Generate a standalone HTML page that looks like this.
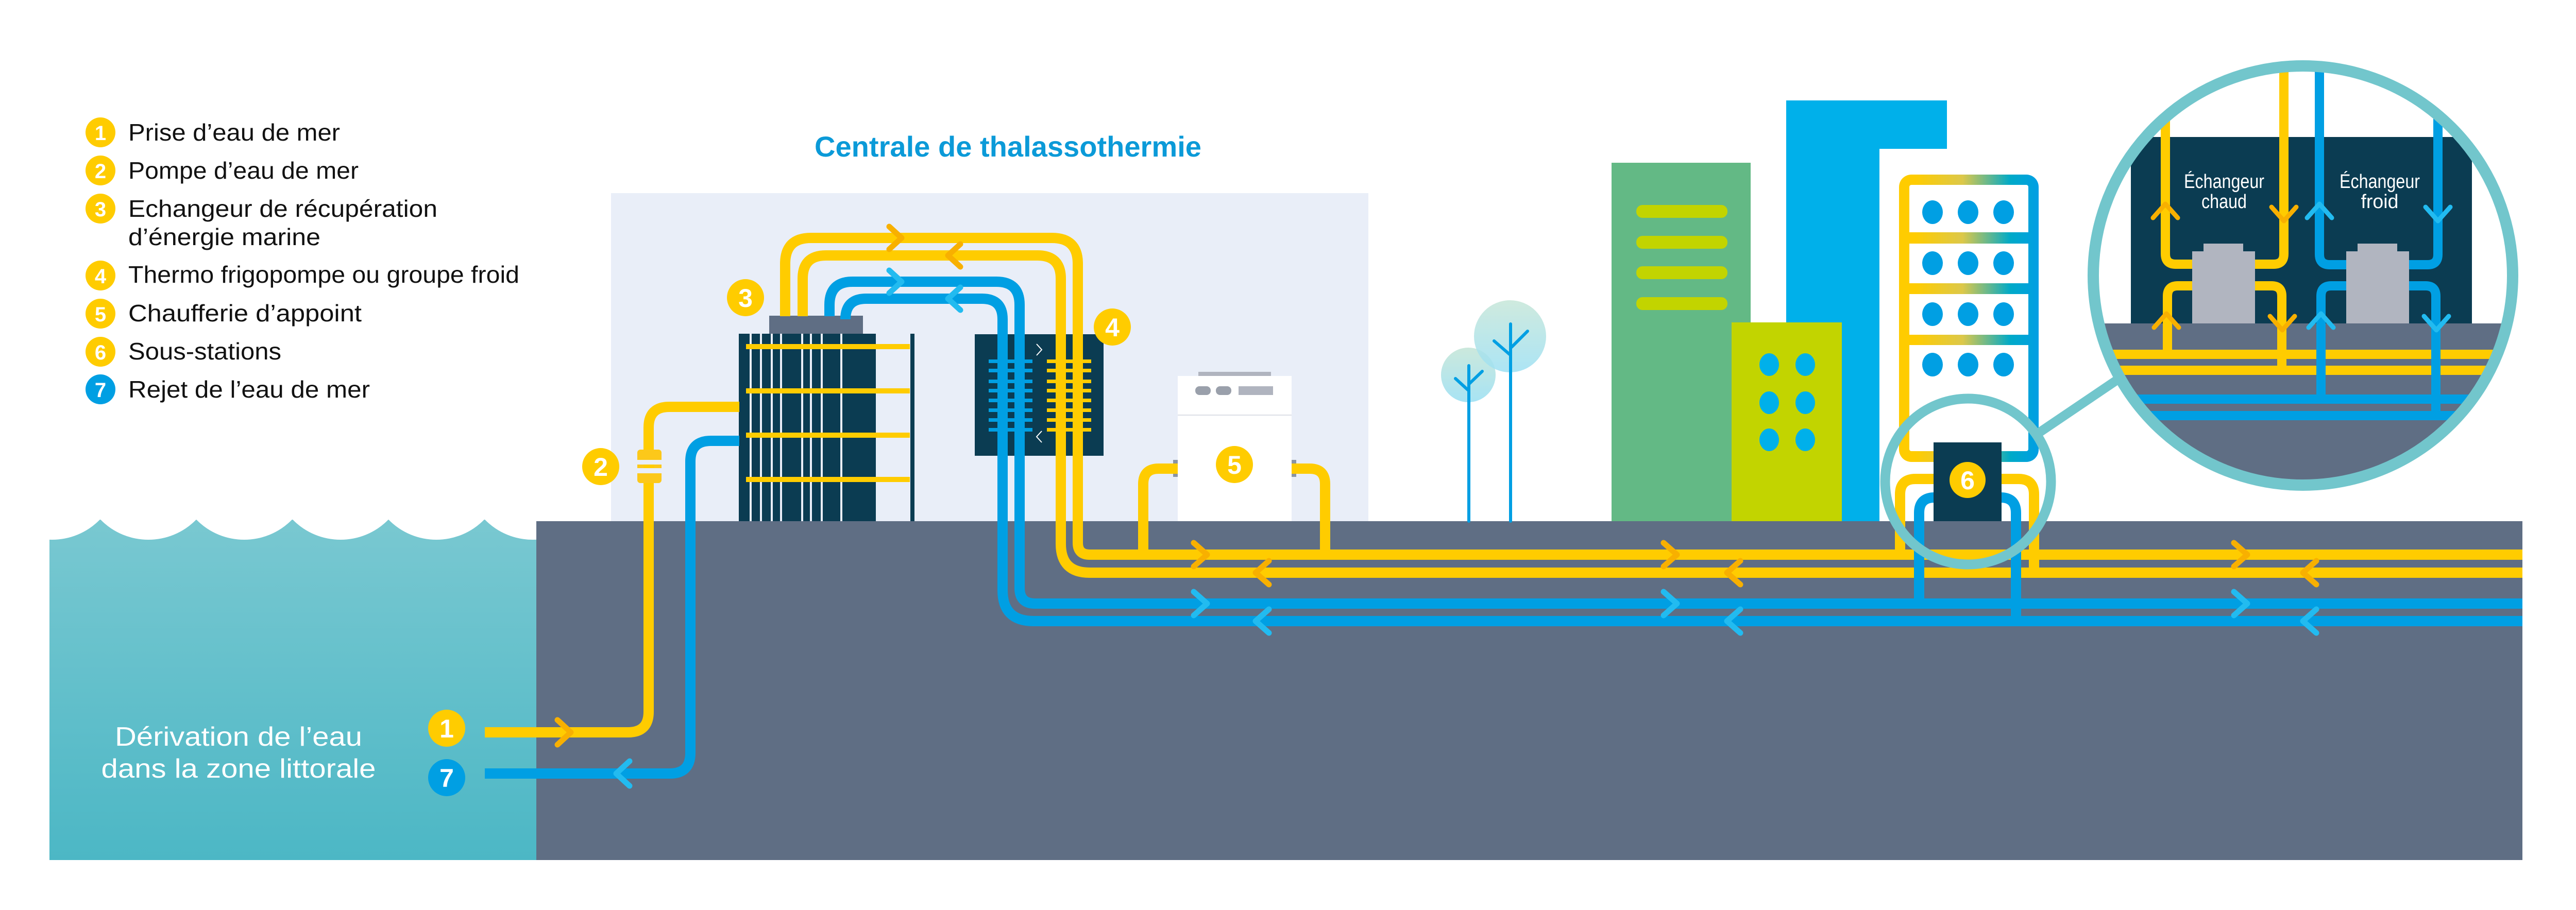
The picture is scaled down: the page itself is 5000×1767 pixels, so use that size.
<!DOCTYPE html>
<html><head><meta charset="utf-8"><style>html,body{margin:0;padding:0;background:#fff}svg{display:block}</style></head>
<body>
<svg width="5000" height="1767" viewBox="0 0 5000 1767" xmlns="http://www.w3.org/2000/svg" font-family="'Liberation Sans Narrow','Liberation Sans',sans-serif">
<defs>
<linearGradient id="sea" x1="0" y1="0" x2="0" y2="1"><stop offset="0" stop-color="#79c8d1"/><stop offset="1" stop-color="#4cb7c5"/></linearGradient>
<linearGradient id="tree" x1="0" y1="0" x2="0" y2="1"><stop offset="0" stop-color="#c6e6d8"/><stop offset="1" stop-color="#9de0f3"/></linearGradient>
<linearGradient id="frame" gradientUnits="userSpaceOnUse" x1="3690" y1="0" x2="3955" y2="0"><stop offset="0.1" stop-color="#ffcc00"/><stop offset="0.45" stop-color="#dcc84a"/><stop offset="0.8" stop-color="#00aac8"/><stop offset="1" stop-color="#009fe3"/></linearGradient>
<clipPath id="mag"><circle cx="4470" cy="535" r="400"/></clipPath>
</defs>

<!-- legend -->
<g font-size="46" fill="#111">
<circle cx="195" cy="257" r="29" fill="#ffcc00"/><text x="195" y="272" font-size="40" font-weight="bold" fill="#fff" text-anchor="middle">1</text>
<text x="249" y="273" textLength="411" lengthAdjust="spacingAndGlyphs">Prise d’eau de mer</text>
<circle cx="195" cy="331" r="29" fill="#ffcc00"/><text x="195" y="346" font-size="40" font-weight="bold" fill="#fff" text-anchor="middle">2</text>
<text x="249" y="347" textLength="447" lengthAdjust="spacingAndGlyphs">Pompe d’eau de mer</text>
<circle cx="195" cy="405" r="29" fill="#ffcc00"/><text x="195" y="420" font-size="40" font-weight="bold" fill="#fff" text-anchor="middle">3</text>
<text x="249" y="421" textLength="600" lengthAdjust="spacingAndGlyphs">Echangeur de récupération</text>
<text x="249" y="476" textLength="373" lengthAdjust="spacingAndGlyphs">d’énergie marine</text>
<circle cx="195" cy="535" r="29" fill="#ffcc00"/><text x="195" y="550" font-size="40" font-weight="bold" fill="#fff" text-anchor="middle">4</text>
<text x="249" y="549" textLength="759" lengthAdjust="spacingAndGlyphs">Thermo frigopompe ou groupe froid</text>
<circle cx="195" cy="609" r="29" fill="#ffcc00"/><text x="195" y="624" font-size="40" font-weight="bold" fill="#fff" text-anchor="middle">5</text>
<text x="249" y="624" textLength="453" lengthAdjust="spacingAndGlyphs">Chaufferie d’appoint</text>
<circle cx="195" cy="683" r="29" fill="#ffcc00"/><text x="195" y="698" font-size="40" font-weight="bold" fill="#fff" text-anchor="middle">6</text>
<text x="249" y="698" textLength="297" lengthAdjust="spacingAndGlyphs">Sous-stations</text>
<circle cx="195" cy="756" r="29" fill="#009fe3"/><text x="195" y="771" font-size="40" font-weight="bold" fill="#fff" text-anchor="middle">7</text>
<text x="249" y="772" textLength="469" lengthAdjust="spacingAndGlyphs">Rejet de l’eau de mer</text>
</g>

<text x="1581" y="304" font-size="56" font-weight="bold" fill="#0b9ad8" textLength="751" lengthAdjust="spacingAndGlyphs">Centrale de thalassothermie</text>

<!-- plant background -->
<rect x="1186" y="375" width="1470" height="640" fill="#e9eef8"/>

<!-- sea -->
<rect x="96" y="1009" width="945" height="661" fill="url(#sea)"/>
<g fill="#fff">
<circle cx="101" cy="918" r="130"/><circle cx="288" cy="918" r="130"/><circle cx="474" cy="918" r="130"/><circle cx="661" cy="918" r="130"/><circle cx="847" cy="918" r="130"/><circle cx="1034" cy="918" r="130"/>
</g>
<rect x="0" y="900" width="96" height="200" fill="#fff"/>
<!-- ground -->
<rect x="1041" y="1012" width="3855" height="658" fill="#5f6e84"/>

<text x="463" y="1448" font-size="52" fill="#fff" text-anchor="middle" textLength="480" lengthAdjust="spacingAndGlyphs">Dérivation de l’eau</text>
<text x="463" y="1510" font-size="52" fill="#fff" text-anchor="middle" textLength="533" lengthAdjust="spacingAndGlyphs">dans la zone littorale</text>

<!-- trees -->
<ellipse cx="2850" cy="728" rx="53" ry="53" fill="url(#tree)" opacity="0.9"/>
<ellipse cx="2931" cy="653" rx="70" ry="70" fill="url(#tree)" opacity="0.85"/>
<g stroke="#009fe3" stroke-width="6" fill="none" stroke-linecap="round">
<line x1="2851" y1="710" x2="2851" y2="1012"/><polyline points="2825,735 2849,757"/><polyline points="2877,721 2852,745"/>
<line x1="2932" y1="629" x2="2932" y2="1012"/><polyline points="2900,662 2930,688"/><polyline points="2965,643 2934,674"/>
</g>

<!-- buildings -->
<rect x="3128" y="316" width="270" height="696" fill="#63b985"/>
<g fill="#c2d400">
<rect x="3176" y="398" width="177" height="25" rx="12"/><rect x="3176" y="458" width="177" height="25" rx="12"/><rect x="3176" y="517" width="177" height="25" rx="12"/><rect x="3176" y="577" width="177" height="25" rx="12"/>
</g>
<rect x="3467" y="195" width="312" height="94" fill="#00b0ea"/>
<rect x="3467" y="195" width="181" height="817" fill="#00b0ea"/>
<rect x="3361" y="626" width="214" height="386" fill="#c2d400"/>
<g fill="#00b0ea">
<ellipse cx="3434" cy="708" rx="19" ry="22"/><ellipse cx="3504" cy="708" rx="19" ry="22"/>
<ellipse cx="3434" cy="782" rx="19" ry="22"/><ellipse cx="3504" cy="782" rx="19" ry="22"/>
<ellipse cx="3434" cy="854" rx="19" ry="22"/><ellipse cx="3504" cy="854" rx="19" ry="22"/>
</g>
<!-- gradient frame building -->
<rect x="3686" y="339" width="271" height="558" rx="24" fill="url(#frame)"/>
<rect x="3706" y="359" width="231" height="517" rx="4" fill="#fff"/>
<rect x="3700" y="451" width="240" height="22" fill="url(#frame)"/>
<rect x="3700" y="550" width="240" height="21" fill="url(#frame)"/>
<rect x="3700" y="650" width="240" height="20" fill="url(#frame)"/>
<g fill="#009fe3">
<ellipse cx="3751" cy="412" rx="20" ry="23"/><ellipse cx="3820" cy="412" rx="20" ry="23"/><ellipse cx="3889" cy="412" rx="20" ry="23"/>
<ellipse cx="3751" cy="511" rx="20" ry="23"/><ellipse cx="3820" cy="511" rx="20" ry="23"/><ellipse cx="3889" cy="511" rx="20" ry="23"/>
<ellipse cx="3751" cy="610" rx="20" ry="23"/><ellipse cx="3820" cy="610" rx="20" ry="23"/><ellipse cx="3889" cy="610" rx="20" ry="23"/>
<ellipse cx="3751" cy="708" rx="20" ry="23"/><ellipse cx="3820" cy="708" rx="20" ry="23"/><ellipse cx="3889" cy="708" rx="20" ry="23"/>
</g>

<!-- boiler 5 -->
<rect x="2326" y="722" width="141" height="9" fill="#b0b4bf"/>
<rect x="2286" y="730" width="221" height="282" fill="#fff"/>
<line x1="2286" y1="806" x2="2507" y2="806" stroke="#dcdfe6" stroke-width="2"/>
<rect x="2320" y="750" width="30" height="17" rx="8" fill="#9aa0ab"/><rect x="2360" y="750" width="30" height="17" rx="8" fill="#9aa0ab"/>
<rect x="2404" y="750" width="67" height="17" fill="#b0b4bf"/>
<rect x="2277" y="893" width="9" height="33" fill="#8a94a4"/><rect x="2507" y="893" width="9" height="33" fill="#8a94a4"/>

<!-- exchanger 3 -->
<rect x="1493" y="613" width="182" height="35" fill="#5f6e84"/>
<rect x="1434" y="648" width="266" height="364" fill="#0b3c52"/>
<g fill="#e9eef8">
<rect x="1455" y="648" width="4" height="364"/><rect x="1475" y="648" width="4" height="364"/><rect x="1496" y="648" width="4" height="364"/><rect x="1514" y="648" width="4" height="364"/>
<rect x="1555" y="648" width="4" height="364"/><rect x="1572" y="648" width="4" height="364"/><rect x="1593" y="648" width="4" height="364"/><rect x="1631" y="648" width="4" height="364"/>
</g>
<rect x="1767" y="648" width="8" height="364" fill="#0b3c52"/>
<g fill="#ffcc00">
<rect x="1448" y="668" width="318" height="10"/><rect x="1448" y="754" width="318" height="10"/><rect x="1448" y="840" width="318" height="10"/><rect x="1448" y="926" width="318" height="10"/>
</g>

<!-- machine 4 box -->
<rect x="1892" y="649" width="250" height="236" fill="#0b3c52"/>

<!-- pipes -->
<g fill="none" stroke-width="20">
<path d="M941 1422 H1219 Q1259 1422 1259 1382 V830 Q1259 790 1299 790 H1435" stroke="#ffcc00"/>
<path d="M941 1502 H1300 Q1340 1502 1340 1462 V896 Q1340 856 1380 856 H1435" stroke="#009fe3"/>
<path d="M1524 614 V512 Q1524 462 1574 462 H2042 Q2092 462 2092 512 V1054 Q2092 1077 2115 1077 H4896" stroke="#ffcc00"/>
<path d="M1558 614 V541 Q1558 496 1603 496 H2014 Q2059 496 2059 541 V1056 Q2059 1112 2115 1112 H4896" stroke="#ffcc00"/>
<path d="M2286 910 H2249 Q2219 910 2219 940 V1077" stroke="#ffcc00"/>
<path d="M2507 910 H2542 Q2572 910 2572 940 V1077" stroke="#ffcc00"/>
<path d="M3688 1077 V960 Q3688 930 3718 930 H3918 Q3948 930 3948 960 V1112" stroke="#ffcc00"/>
<path d="M1610 614 V592 Q1610 547 1655 547 H1934 Q1979 547 1979 592 V1142 Q1979 1172 2009 1172 H4896" stroke="#009fe3"/>
<path d="M1641 614 V620 Q1641 580 1681 580 H1906 Q1946 580 1946 620 V1146 Q1946 1206 2006 1206 H4896" stroke="#009fe3"/>
<path d="M3725 1172 V996 Q3725 966 3755 966 H3883 Q3913 966 3913 996 V1206" stroke="#009fe3"/>
</g>
<!-- pump -->
<rect x="1237" y="873" width="47" height="65" rx="6" fill="#fcc81a"/>
<rect x="1235" y="893" width="51" height="9" fill="#e9eef8"/><rect x="1235" y="909" width="51" height="10" fill="#e9eef8"/>
<rect x="1249" y="902" width="21" height="7" fill="#ffcc00"/>

<!-- coils -->
<g fill="#009fe3"><rect x="1919" y="698" width="85" height="7"/><rect x="1919" y="716" width="85" height="7"/><rect x="1919" y="737" width="85" height="7"/><rect x="1919" y="755" width="85" height="7"/><rect x="1919" y="774" width="85" height="7"/><rect x="1919" y="793" width="85" height="7"/><rect x="1919" y="812" width="85" height="7"/><rect x="1919" y="831" width="85" height="7"/></g>
<g fill="#ffcc00"><rect x="2032" y="698" width="86" height="7"/><rect x="2032" y="716" width="86" height="7"/><rect x="2032" y="737" width="86" height="7"/><rect x="2032" y="755" width="86" height="7"/><rect x="2032" y="774" width="86" height="7"/><rect x="2032" y="793" width="86" height="7"/><rect x="2032" y="812" width="86" height="7"/><rect x="2032" y="831" width="86" height="7"/></g>
<g fill="none" stroke="#fff" stroke-width="2"><polyline points="2012,668 2022,679 2012,690"/><polyline points="2022,837 2012,848 2022,859"/></g>

<!-- arrows -->
<g fill="none" stroke-width="11" stroke-linecap="round" stroke-linejoin="round">
<g stroke="#f8b000">
<polyline points="1082,1398 1108,1422 1082,1446"/>
<polyline points="1726,440 1750,462 1726,484"/><polyline points="1864,474 1840,496 1864,518"/>
<polyline points="2317,1054 2343,1077 2317,1100"/><polyline points="2463,1089 2437,1112 2463,1135"/>
<polyline points="3229,1054 3255,1077 3229,1100"/><polyline points="3378,1089 3352,1112 3378,1135"/>
<polyline points="4336,1054 4362,1077 4336,1100"/><polyline points="4496,1089 4470,1112 4496,1135"/>
</g>
<g stroke="#22bbf0">
<polyline points="1222,1478 1196,1502 1222,1526"/>
<polyline points="1726,525 1750,547 1726,569"/><polyline points="1864,558 1840,580 1864,602"/>
<polyline points="2317,1149 2343,1172 2317,1195"/><polyline points="2463,1183 2437,1206 2463,1229"/>
<polyline points="3229,1149 3255,1172 3229,1195"/><polyline points="3378,1183 3352,1206 3378,1229"/>
<polyline points="4336,1149 4362,1172 4336,1195"/><polyline points="4496,1183 4470,1206 4496,1229"/>
</g>
</g>

<!-- substation -->
<rect x="3753" y="859" width="132" height="153" fill="#0b3c52"/>

<!-- number circles -->
<g font-size="50" font-weight="bold" fill="#fff" text-anchor="middle">
<circle cx="867" cy="1414" r="36" fill="#ffcc00"/><text x="867" y="1432">1</text>
<circle cx="867" cy="1510" r="36" fill="#009fe3"/><text x="867" y="1528">7</text>
<circle cx="1166" cy="906" r="36" fill="#ffcc00"/><text x="1166" y="924">2</text>
<circle cx="1447" cy="578" r="36" fill="#ffcc00"/><text x="1447" y="596">3</text>
<circle cx="2159" cy="635" r="36" fill="#ffcc00"/><text x="2159" y="653">4</text>
<circle cx="2396" cy="902" r="36" fill="#ffcc00"/><text x="2396" y="920">5</text>
<circle cx="3819" cy="932" r="35" fill="#ffcc00"/><text x="3819" y="950">6</text>
</g>

<!-- small magnifier -->
<circle cx="3820" cy="935" r="161" fill="none" stroke="#72c6cc" stroke-width="19"/>
<line x1="3955" y1="842" x2="4125" y2="727" stroke="#72c6cc" stroke-width="18"/>

<!-- big magnifier -->
<g clip-path="url(#mag)">
<rect x="4050" y="100" width="850" height="900" fill="#fff"/>
<rect x="4136" y="266" width="662" height="362" fill="#0b3c52"/>
<rect x="4050" y="628" width="850" height="350" fill="#5f6e84"/>
<g fill="none" stroke-width="18">
<line x1="4050" y1="688" x2="4900" y2="688" stroke="#ffcc00"/>
<line x1="4050" y1="719" x2="4900" y2="719" stroke="#ffcc00"/>
<path d="M4203 100 V493 Q4203 513 4223 513 H4413 Q4433 513 4433 493 V100" stroke="#ffcc00"/>
<path d="M4207 688 V575 Q4207 555 4227 555 H4409 Q4429 555 4429 575 V719" stroke="#ffcc00"/>
<line x1="4050" y1="775" x2="4900" y2="775" stroke="#009fe3"/>
<line x1="4050" y1="807" x2="4900" y2="807" stroke="#009fe3"/>
<path d="M4502 100 V494 Q4502 514 4522 514 H4712 Q4732 514 4732 494 V100" stroke="#009fe3"/>
<path d="M4505 775 V575 Q4505 555 4525 555 H4708 Q4728 555 4728 575 V807" stroke="#009fe3"/>
</g>
<g fill="#b1b5c0">
<rect x="4277" y="473" width="77" height="20"/><rect x="4255" y="488" width="122" height="140"/>
<rect x="4576" y="473" width="77" height="20"/><rect x="4554" y="488" width="122" height="140"/>
</g>
<g fill="none" stroke-width="9" stroke-linecap="round" stroke-linejoin="round">
<g stroke="#f8b000"><polyline points="4179,423 4203,396 4227,423"/><polyline points="4181,636 4205,609 4229,636"/><polyline points="4409,402 4433,429 4457,402"/><polyline points="4406,614 4430,641 4454,614"/></g>
<g stroke="#22bbf0"><polyline points="4478,423 4502,396 4526,423"/><polyline points="4481,636 4505,609 4529,636"/><polyline points="4708,402 4732,429 4756,402"/><polyline points="4705,614 4729,641 4753,614"/></g>
</g>
<g font-size="38" fill="#fff" text-anchor="middle">
<text x="4317" y="365" textLength="156" lengthAdjust="spacingAndGlyphs">Échangeur</text>
<text x="4317" y="404" textLength="88" lengthAdjust="spacingAndGlyphs">chaud</text>
<text x="4619" y="365" textLength="156" lengthAdjust="spacingAndGlyphs">Échangeur</text>
<text x="4619" y="404" textLength="73" lengthAdjust="spacingAndGlyphs">froid</text>
</g>
</g>
<circle cx="4470" cy="535" r="407" fill="none" stroke="#72c6cc" stroke-width="22"/>
</svg>
</body></html>
